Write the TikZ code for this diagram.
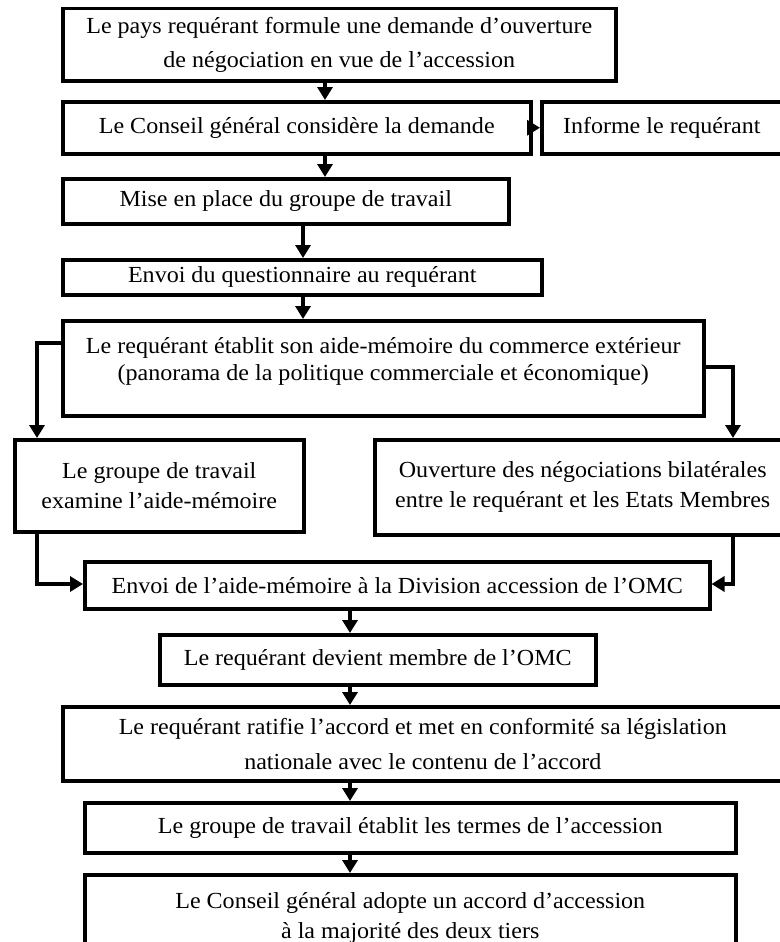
\documentclass[tikz,border=0pt]{standalone}
\usepackage{fontspec}
\setmainfont{Liberation Serif}[FakeStretch=1.045]
\usetikzlibrary{arrows.meta,calc}
\begin{document}
\begin{tikzpicture}[x=1pt,y=-1pt,
  box/.style={draw, line width=3.5pt, inner sep=0pt, align=center, anchor=north west, font=\fontsize{23}{34}\selectfont},
  arr/.style={line width=3.5pt, -{Triangle[length=13pt,width=15pt]}},
]
\useasboundingbox (0,0) rectangle (779,942);
\node[box, minimum width=553pt, minimum height=72pt] (b1) at (61,7) {\rule{0pt}{6pt}Le pays requérant formule une demande d’ouverture\\de négociation en vue de l’accession};
\node[box, minimum width=468pt, minimum height=52pt] (b2) at (61,100) {Le Conseil général considère la demande};
\node[box, minimum width=240pt, minimum height=52pt] (b2b) at (540,100) {Informe le requérant};
\node[box, minimum width=446pt, minimum height=45pt] (b3) at (61,177) {Mise en place du groupe de travail};
\node[box, minimum width=479pt, minimum height=35pt] (b4) at (61,258) {Envoi du questionnaire au requérant};
\node[box, minimum width=641pt, minimum height=95pt, font=\fontsize{23}{27}\selectfont] (b5) at (61,319) {Le requérant établit son aide-mémoire du commerce extérieur\\(panorama de la politique commerciale et économique)\\[-8pt]};
\node[box, minimum width=289pt, minimum height=92pt, font=\fontsize{23}{30}\selectfont] (b6) at (13,438) {Le groupe de travail\\examine l’aide-mémoire};
\node[box, minimum width=416pt, minimum height=95pt, font=\fontsize{23}{30}\selectfont] (b7) at (373,438) {Ouverture des négociations bilatérales\\entre le requérant et les Etats Membres};
\node[box, minimum width=625pt, minimum height=47pt] (b8) at (83,560) {Envoi de l’aide-mémoire à la Division accession de l’OMC};
\node[box, minimum width=436pt, minimum height=50pt] (b9) at (158,633) {Le requérant devient membre de l’OMC};
\node[box, minimum width=720pt, minimum height=74pt, font=\fontsize{23}{35}\selectfont] (b10) at (61,705) {Le requérant ratifie l’accord et met en conformité sa législation\\nationale avec le contenu de l’accord};
\node[box, minimum width=651pt, minimum height=50pt] (b11) at (83,801) {Le groupe de travail établit les termes de l’accession};
\node[box, minimum width=651pt, minimum height=86pt, font=\fontsize{23}{30}\selectfont] (b12) at (83,873) {Le Conseil général adopte un accord d’accession\\à la majorité des deux tiers};
\coordinate (xa) at (325,0);
\coordinate (xb) at (303,0);
\coordinate (xc) at (350,0);
\coordinate (xl) at (37,0);
\coordinate (xr) at (733,0);
\coordinate (yl) at (0,343);
\coordinate (yr) at (0,367);
\coordinate (ym) at (0,584);
\draw[arr] (b1.south -| xa) -- (b2.north -| xa);
\draw[arr] (b2.east) -- (b2b.west);
\draw[arr] (b2.south -| xa) -- (b3.north -| xa);
\draw[arr] (b3.south -| xb) -- (b4.north -| xb);
\draw[arr] (b4.south -| xb) -- (b5.north -| xb);
\draw[arr] (b5.west |- yl) -| (b6.north -| xl);
\draw[arr] (b5.east |- yr) -| (b7.north -| xr);
\draw[arr] (b6.south -| xl) |- (b8.west |- ym);
\draw[arr] (b7.south -| xr) |- (b8.east |- ym);
\draw[arr] (b8.south -| xc) -- (b9.north -| xc);
\draw[arr] (b9.south -| xc) -- (b10.north -| xc);
\draw[arr] (b10.south -| xc) -- (b11.north -| xc);
\draw[arr] (b11.south -| xc) -- (b12.north -| xc);
\end{tikzpicture}
\end{document}
